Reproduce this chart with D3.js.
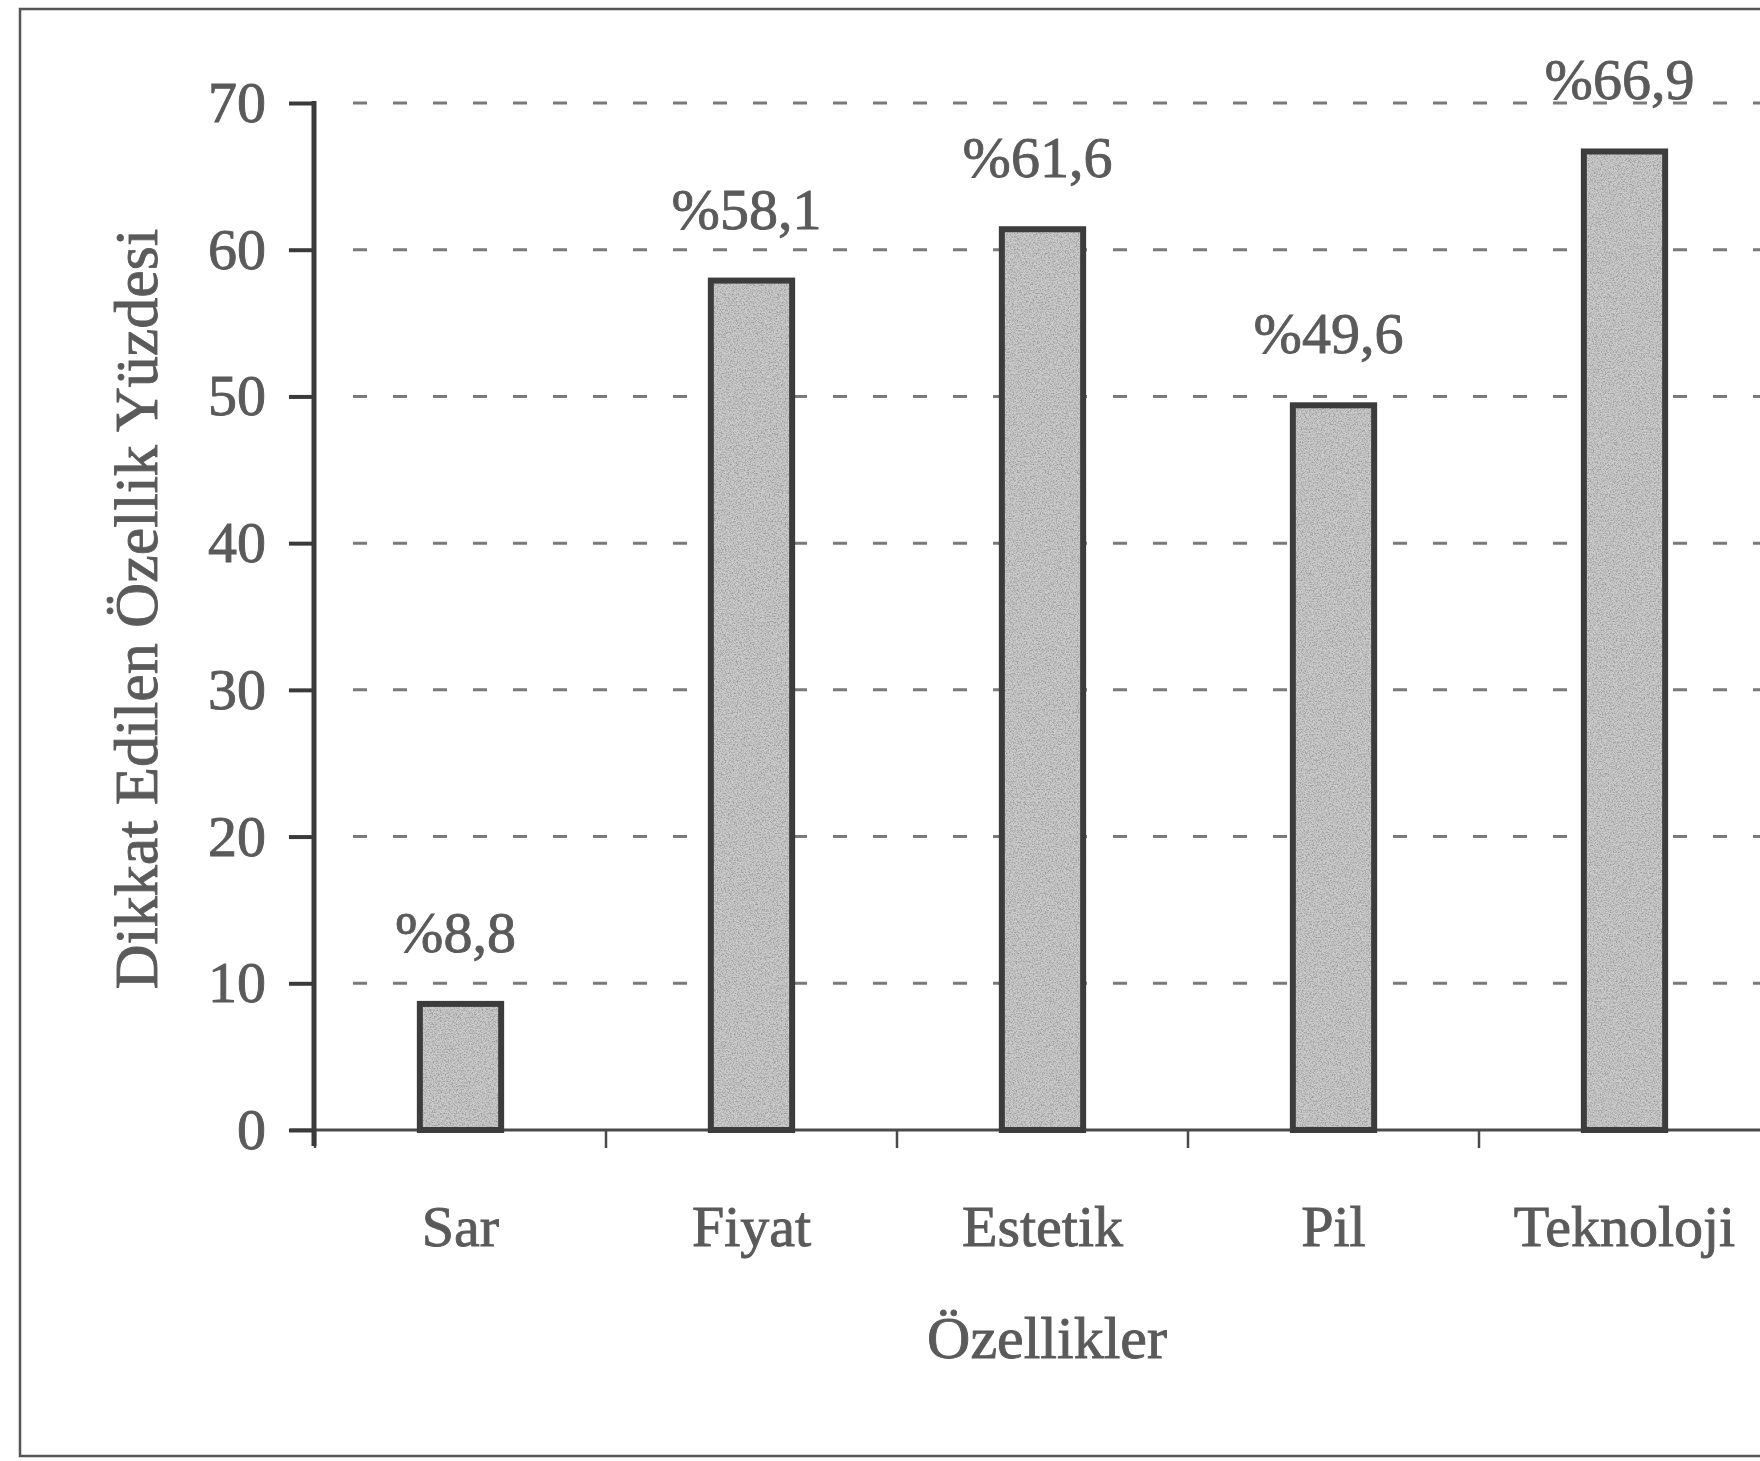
<!DOCTYPE html>
<html>
<head>
<meta charset="utf-8">
<script src="https://cdn.jsdelivr.net/npm/d3@7"></script>
<style>
  html, body { margin: 0; padding: 0; background: #ffffff; }
  svg { display: block; }
  text { font-family: "Liberation Serif", "DejaVu Serif", serif; fill: #5a5a5a; stroke: #5a5a5a; stroke-width: 0.9px; }
</style>
</head>
<body>
<svg id="chart" width="1760" height="1461"></svg>
<script>
// Share of respondents who paid attention to each phone feature
const categories = ["Sar", "Fiyat", "Estetik", "Pil", "Teknoloji"];
const values = [8.8, 58.1, 61.6, 49.6, 66.9];
const valueLabels = ["%8,8", "%58,1", "%61,6", "%49,6", "%66,9"];
const yTicks = [0, 10, 20, 30, 40, 50, 60, 70];
const yTitle = "Dikkat Edilen Özellik Yüzdesi";
const xTitle = "Özellikler";

const W = 1760, H = 1461;
const svg = d3.select("#chart");

// grainy fill for the bars
const defs = svg.append("defs");
const grain = defs.append("filter").attr("id", "grain")
  .attr("x", 0).attr("y", 0).attr("width", "100%").attr("height", "100%");
grain.append("feTurbulence").attr("type", "fractalNoise")
  .attr("baseFrequency", 0.75).attr("numOctaves", 2).attr("seed", 7).attr("result", "noise");
grain.append("feColorMatrix").attr("in", "noise").attr("type", "matrix")
  .attr("values", "0 0 0 0 0.3  0 0 0 0 0.3  0 0 0 0 0.3  2.6 0 0 0 -1.05")
  .attr("result", "speck");
grain.append("feComposite").attr("in", "speck").attr("in2", "SourceAlpha").attr("operator", "in");

// outer frame
svg.append("rect")
  .attr("x", 20).attr("y", 9).attr("width", 1760).attr("height", 1447)
  .attr("fill", "none").attr("stroke", "#555").attr("stroke-width", 2.5);

const plotLeft = 315, step = 291;
const x = d3.scaleBand()
  .domain(categories)
  .range([plotLeft, plotLeft + step * categories.length])
  .paddingInner(0.7).paddingOuter(0.35);
const y = d3.scaleLinear().domain([0, 70]).range([1130, 103]);

// dashed gridlines
svg.append("g").selectAll("line")
  .data(yTicks.filter(d => d > 0))
  .join("line")
  .attr("x1", plotLeft + 38).attr("x2", W)
  .attr("y1", d => y(d)).attr("y2", d => y(d))
  .attr("stroke", "#7a7a7a").attr("stroke-width", 3)
  .attr("stroke-dasharray", "14,26");

// x axis
const xAxis = svg.append("g")
  .attr("transform", `translate(0,${y(0)})`)
  .call(d3.axisBottom(x).tickSize(0).tickSizeOuter(0));
xAxis.select(".domain").remove();
xAxis.append("line")
  .attr("x1", plotLeft - 25).attr("x2", W).attr("y1", 0).attr("y2", 0)
  .attr("stroke", "#4a4a4a").attr("stroke-width", 3);
xAxis.selectAll(".tick text")
  .attr("y", 116).attr("dy", 0)
  .style("font-size", "58px").attr("fill", "#5a5a5a");

// separators between categories
svg.append("g").selectAll("line")
  .data(d3.range(categories.length))
  .join("line")
  .attr("x1", i => x.range()[0] + i * x.step())
  .attr("x2", i => x.range()[0] + i * x.step())
  .attr("y1", y(0)).attr("y2", y(0) + 18)
  .attr("stroke", "#4a4a4a").attr("stroke-width", 2.5);

// bars
const bw = x.bandwidth();
const bars = svg.append("g");
bars.selectAll("rect.base")
  .data(values)
  .join("rect").attr("class", "base")
  .attr("x", (d, i) => x(categories[i]) + 3)
  .attr("y", d => y(d) + 3)
  .attr("width", bw - 6)
  .attr("height", d => y(0) - y(d) - 3)
  .attr("fill", "#cdcdcd");
bars.selectAll("rect.grain")
  .data(values)
  .join("rect").attr("class", "grain")
  .attr("x", (d, i) => x(categories[i]) + 3)
  .attr("y", d => y(d) + 3)
  .attr("width", bw - 6)
  .attr("height", d => y(0) - y(d) - 3)
  .attr("fill", "#000")
  .attr("filter", "url(#grain)");
bars.selectAll("rect.edge")
  .data(values)
  .join("rect").attr("class", "edge")
  .attr("x", (d, i) => x(categories[i]) + 3)
  .attr("y", d => y(d) + 3)
  .attr("width", bw - 6)
  .attr("height", d => y(0) - y(d) - 3)
  .attr("fill", "none")
  .attr("stroke", "#3c3c3c").attr("stroke-width", 6);

// y axis
const yAxis = svg.append("g")
  .attr("transform", `translate(${plotLeft - 1},0)`)
  .call(d3.axisLeft(y).tickValues(yTicks).tickSize(25).tickSizeOuter(0).tickPadding(23));
yAxis.select(".domain").remove();
yAxis.append("line")
  .attr("x1", 0).attr("x2", 0).attr("y1", y(70) - 2).attr("y2", y(0) + 16)
  .attr("stroke", "#3a3a3a").attr("stroke-width", 5);
yAxis.selectAll(".tick line").attr("stroke", "#3a3a3a").attr("stroke-width", 4).attr("x2", -25);
yAxis.selectAll(".tick text").style("font-size", "58px").attr("fill", "#5a5a5a");

// value labels
svg.append("g").selectAll("text")
  .data(values)
  .join("text")
  .attr("x", (d, i) => x(categories[i]) + bw / 2 - 5)
  .attr("y", d => y(d) - 49)
  .attr("text-anchor", "middle")
  .style("font-size", "58px")
  .text((d, i) => valueLabels[i]);

// axis titles
svg.append("text")
  .attr("transform", "translate(157,609) rotate(-90)")
  .attr("text-anchor", "middle")
  .style("font-size", "62px")
  .text(yTitle);
svg.append("text")
  .attr("x", 1047).attr("y", 1358)
  .attr("text-anchor", "middle")
  .style("font-size", "60px")
  .text(xTitle);
</script>
</body>
</html>
